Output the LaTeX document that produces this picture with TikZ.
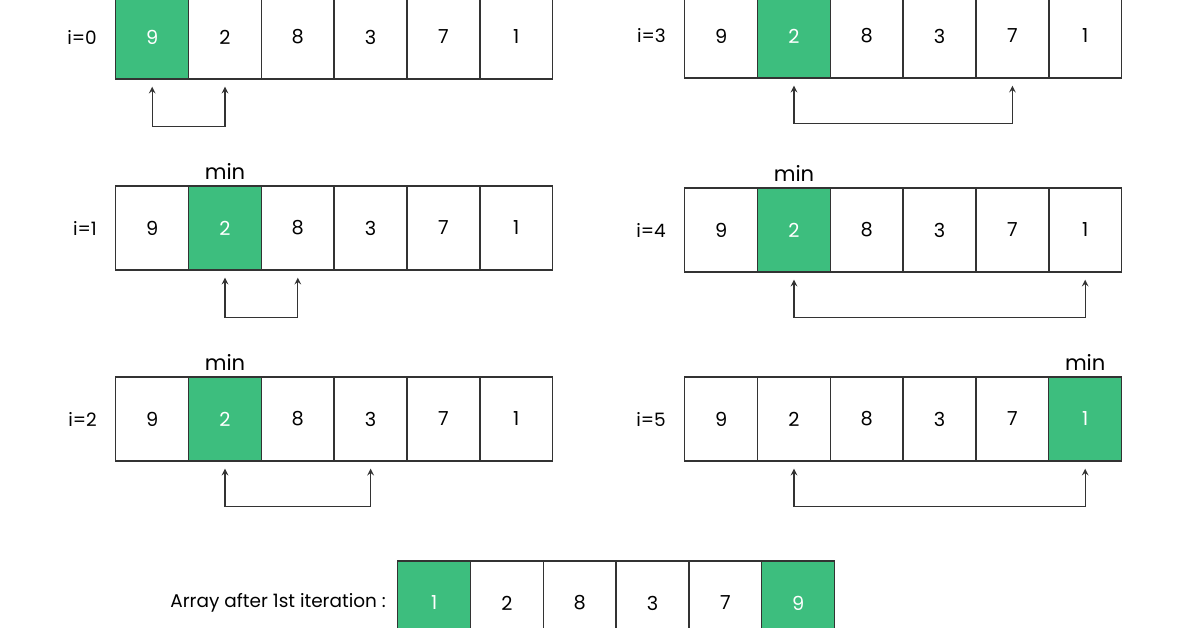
\documentclass[tikz,border=0pt]{standalone}
\usepackage{fontspec}
\setmainfont{Poppins}
\usetikzlibrary{positioning}
\definecolor{mingreen}{HTML}{3DBE7E}
\tikzset{
  cell/.style={draw=black!80,line width=0.8pt,minimum width=1.46cm,minimum height=1.68cm,inner sep=0pt,font=\fontsize{11}{13}\selectfont},
  mincell/.style={cell,fill=mingreen,text=white},
  rowlabel/.style={font=\fontsize{10.5}{12}\selectfont},
  minlabel/.style={font=\fontsize{12}{14}\selectfont},
  swapedge/.style={<->,>=stealth,line width=0.7pt,black!80}
}
\begin{document}
\begin{tikzpicture}[x=0.02cm,y=-0.02cm]
\useasboundingbox (0,0) rectangle (1196,628);
% rows: name/left x/centre y/label/min cell
\foreach \r/\x/\y/\lab/\m in {r0/115/37/i=0/0, r1/115/228/i=1/1, r2/115/419/i=2/1,
                              r3/684/36/i=3/1, r4/684/230/i=4/1, r5/684/419/i=5/5}{
  \node[rowlabel,anchor=east] (\r lab) at (\x-12,\y) {\lab};
  \foreach \v [count=\c from 0] in {9,2,8,3,7,1}{
    \ifnum\c=\m
      \node[mincell,anchor=west] (\r c\c) at (\x+\c*72.8,\y) {\v};
    \else
      \node[cell,anchor=west] (\r c\c) at (\x+\c*72.8,\y) {\v};
    \fi
  }
}
% min labels
\node[minlabel,above=0pt of r1c1] (r1min) {min};
\node[minlabel,above=0pt of r2c1] (r2min) {min};
\node[minlabel,above=0pt of r4c1] (r4min) {min};
\node[minlabel,above=0pt of r5c5] (r5min) {min};
% compared pairs
\draw[swapedge] ([yshift=-0.14cm]r0c0.south) -- ++(0,40) -| ([yshift=-0.14cm]r0c1.south);
\draw[swapedge] ([yshift=-0.14cm]r1c1.south) -- ++(0,40) -| ([yshift=-0.14cm]r1c2.south);
\draw[swapedge] ([yshift=-0.14cm]r2c1.south) -- ++(0,38) -| ([yshift=-0.14cm]r2c3.south);
\draw[swapedge] ([yshift=-0.14cm]r3c1.south) -- ++(0,38) -| ([yshift=-0.14cm]r3c4.south);
\draw[swapedge] ([yshift=-0.14cm]r4c1.south) -- ++(0,38) -| ([yshift=-0.14cm]r4c5.south);
\draw[swapedge] ([yshift=-0.14cm]r5c1.south) -- ++(0,38) -| ([yshift=-0.14cm]r5c5.south);
% result
\foreach \v [count=\c from 0] in {1,2,8,3,7,9}{
  \ifnum\c=0 \def\st{mincell}\else\ifnum\c=5 \def\st{mincell}\else\def\st{cell}\fi\fi
  \node[\st,anchor=west] (res\c) at (397+\c*72.8,603) {\v};
}
\node[rowlabel,anchor=east] (reslab) at (392,603) {Array after 1st iteration :};
\end{tikzpicture}
\end{document}
